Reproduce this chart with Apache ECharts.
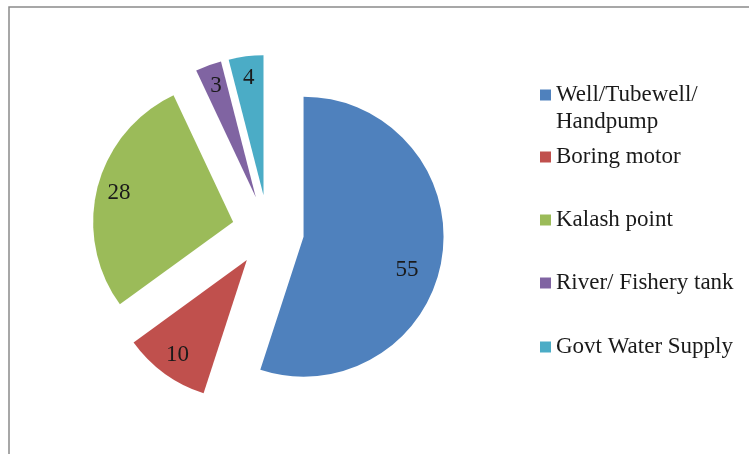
<!DOCTYPE html>
<html>
<head>
<meta charset="utf-8">
<script src="https://cdn.jsdelivr.net/npm/echarts@6/dist/echarts.min.js"></script>
<style>
  html, body { margin: 0; padding: 0; background: #ffffff; }
  #chart { width: 749px; height: 454px; }
</style>
</head>
<body>
<div id="chart"></div>
<script>
// Sources of drinking water (per cent of households)
const categories = ['Well/Tubewell/Handpump', 'Boring motor', 'Kalash point', 'River/ Fishery tank', 'Govt Water Supply'];
const values = [55, 10, 28, 3, 4];
const colors = ['#4F81BD', '#C0504D', '#9BBB59', '#8064A2', '#4BACC6'];

const chart = echarts.init(document.getElementById('chart'), null, { renderer: 'canvas' });

const serif = '"Liberation Serif", "Times New Roman", serif';
const pieCenter = [268, 231];
const pieRadius = 140;
const explode = 36;

// Every slice is pulled out from the centre
const sliceData = categories.map((name, i) => ({
  name: name,
  value: values[i],
  selected: true,
  itemStyle: { color: colors[i] }
}));

// Transparent ring that carries the value labels near the rim
const labelData = categories.map((name, i) => ({
  name: name,
  value: values[i],
  selected: true,
  itemStyle: { color: 'rgba(0,0,0,0)' }
}));

// One legend block per entry so each row sits at its own height.
// The wrapped first entry gets a leading empty line so its marker
// lines up with the first text line.
const legendTops = [54.5, 143.5, 206.5, 269.5, 333.5];
const legends = categories.map((name, i) => ({
  data: [{ name: name, itemStyle: { color: colors[i] } }],
  left: 540,
  top: legendTops[i],
  orient: 'vertical',
  padding: 0,
  icon: 'rect',
  itemWidth: 11,
  itemHeight: 11,
  selectedMode: false,
  formatter: n => (i === 0 ? '\n' + n.replace('Tubewell/', 'Tubewell/\n') : n),
  textStyle: {
    fontFamily: serif,
    fontSize: 23,
    lineHeight: 27,
    color: '#1a1a1a'
  }
}));

chart.setOption({
  backgroundColor: '#ffffff',
  animation: false,
  legend: legends,
  graphic: [{
    type: 'rect',
    silent: true,
    shape: { x: 9, y: 7, width: 800, height: 500 },
    style: { fill: 'none', stroke: '#8a8a8a', lineWidth: 1.5 }
  }],
  series: [
    {
      type: 'pie',
      center: pieCenter,
      radius: [0, pieRadius],
      startAngle: 90,
      clockwise: true,
      selectedMode: 'multiple',
      selectedOffset: explode,
      silent: true,
      avoidLabelOverlap: false,
      label: { show: false },
      labelLine: { show: false },
      emphasis: { disabled: true },
      data: sliceData
    },
    {
      type: 'pie',
      center: pieCenter,
      radius: [pieRadius * 0.64, pieRadius],
      startAngle: 90,
      clockwise: true,
      selectedMode: 'multiple',
      selectedOffset: explode,
      silent: true,
      avoidLabelOverlap: false,
      label: {
        show: true,
        position: 'inside',
        formatter: '{c}',
        fontFamily: serif,
        fontSize: 23,
        color: '#1a1a1a'
      },
      // the big slice's label sits a little lower and further in
      labelLayout: params => (params.dataIndex === 0 ? { dx: -13, dy: 15 } : {}),
      labelLine: { show: false },
      emphasis: { disabled: true },
      data: labelData
    }
  ]
});
</script>
</body>
</html>
